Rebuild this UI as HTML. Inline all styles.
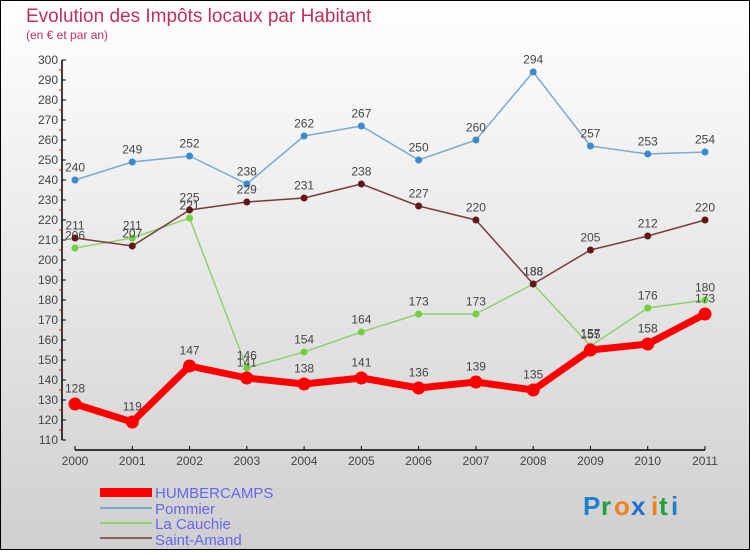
<!DOCTYPE html>
<html><head><meta charset="utf-8"><style>
body{margin:0;}
svg text{font-family:"Liberation Sans",sans-serif;}
</style></head><body>
<svg width="750" height="550" viewBox="0 0 750 550" xmlns="http://www.w3.org/2000/svg">
<defs><linearGradient id="bg" x1="0" y1="0" x2="0" y2="1"><stop offset="0" stop-color="#ffffff"/><stop offset="1" stop-color="#cfcfcf"/></linearGradient></defs>
<rect x="0.5" y="0.5" width="749" height="549" fill="url(#bg)" stroke="#000"/>
<text x="26" y="22" font-size="19" fill="#c0305a">Evolution des Impôts locaux par Habitant</text>
<text x="26" y="39" font-size="12" fill="#c0305a">(en € et par an)</text>
<g id="axes"></g>
<g id="series"></g>
<g>
<rect x="100" y="488" width="52" height="9" fill="#f00"/>
<text x="155" y="498" font-size="15" fill="#6666ee">HUMBERCAMPS</text>
<rect x="100" y="507" width="52" height="2" fill="#7aaad0"/>
<text x="155" y="514" font-size="15" fill="#6666ee">Pommier</text>
<rect x="100" y="522" width="52" height="2" fill="#90d070"/>
<text x="155" y="529" font-size="15" fill="#6666ee">La Cauchie</text>
<rect x="100" y="537" width="52" height="2" fill="#906060"/>
<text x="155" y="545" font-size="15" fill="#6666ee">Saint-Amand</text>
</g>
<g font-size="26" font-weight="bold">
<text x="583" y="515" fill="#2080d0">P</text><text x="601" y="515" fill="#20a040">r</text><text x="614" y="515" fill="#f08020">o</text><text x="631" y="515" fill="#2070d0">x</text><text x="651" y="515" fill="#f08020">i</text><text x="659" y="515" fill="#20a040">t</text><text x="671" y="515" fill="#2080d0">i</text>
</g>
</svg>
<script>
const years=["2000","2001","2002","2003","2004","2005","2006","2007","2008","2009","2010","2011"];
const humbercamps=[128,119,147,141,138,141,136,139,135,155,158,173];
const pommier=[240,249,252,238,262,267,250,260,294,257,253,254];
const laCauchie=[206,211,221,146,154,164,173,173,188,157,176,180];
const saintAmand=[211,207,225,229,231,238,227,220,188,205,212,220];
const yTicks=[110,120,130,140,150,160,170,180,190,200,210,220,230,240,250,260,270,280,290,300];
const NS="http://www.w3.org/2000/svg";
const X=i=>75+i*(630/(years.length-1));
const Y=v=>60+(300-v)*2;
function mk(tag,attrs,parent){const e=document.createElementNS(NS,tag);for(const k in attrs)e.setAttribute(k,attrs[k]);parent.appendChild(e);return e;}
const ax=document.getElementById('axes');
let l=mk('line',{x1:62,y1:Y(300),x2:62,y2:Y(110),stroke:'#000','stroke-width':1.5},ax);


yTicks.forEach(v=>{
 mk('line',{x1:62,y1:Y(v),x2:66,y2:Y(v),stroke:'#000'},ax);
 if(v<300)mk('line',{x1:59,y1:Y(v+5),x2:62,y2:Y(v+5),stroke:'#f00'},ax);
 const t=mk('text',{x:58,y:Y(v)+4,'font-size':12,fill:'#444','text-anchor':'end'},ax);t.textContent=v;
 
 
});
l=mk('line',{x1:X(0),y1:450,x2:X(years.length-1),y2:450,stroke:'#000','stroke-width':1.5},ax);


years.forEach((y,i)=>{
 mk('line',{x1:X(i),y1:446,x2:X(i),y2:450,stroke:'#000'},ax);
 const t=mk('text',{x:X(i),y:465,'font-size':12,fill:'#444','text-anchor':'middle'},ax);t.textContent=y;
 
 
});
const sg=document.getElementById('series');
function draw(name,data,color,w,r,dot){
 const g=mk('g',{},sg);
 
 
 const p=mk('polyline',{points:data.map((v,i)=>X(i)+','+Y(v)).join(' '),fill:'none',stroke:color,'stroke-width':w,'stroke-linejoin':'round'},g);
 
 
 data.forEach((v,i)=>{
  const c=mk('circle',{cx:X(i),cy:Y(v),r:r,fill:dot},g);
  
  
  const t=mk('text',{x:X(i),y:Y(v)-r-5,'font-size':12,fill:'#444','text-anchor':'middle'},g);t.textContent=v;
  
  
 });
}
draw('pommier',pommier,'#7aaad0',1.5,3.5,'#3a8ad0');
draw('la-cauchie',laCauchie,'#90d070',1.5,3.5,'#70d040');
draw('saint-amand',saintAmand,'#7a3a3a',1.5,3.5,'#601818');
draw('humbercamps',humbercamps,'#f00',7,6.5,'#f00');
</script>
</body></html>
